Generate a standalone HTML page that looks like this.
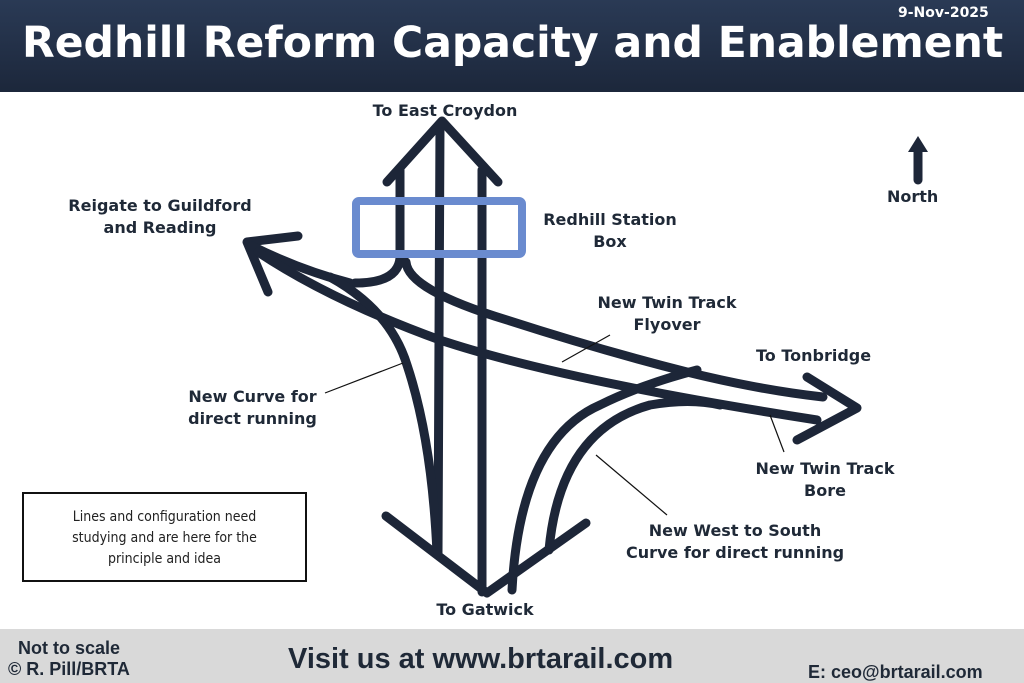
<!DOCTYPE html>
<html><head><style>
body{margin:0;width:1024px;height:683px;overflow:hidden;background:#fff;font-family:"DejaVu Sans","Liberation Sans",sans-serif;position:relative}
.hdr{position:absolute;left:0;top:0;width:1024px;height:92px;background:linear-gradient(#2a3a55,#1c273b)}
.t{position:absolute;color:#1f2937;font-weight:bold;white-space:nowrap}
.c{text-align:center}
.ftr{position:absolute;left:0;top:629px;width:1024px;height:54px;background:#d9d9d9}
.f{font-family:"Liberation Sans",sans-serif}
</style></head><body>
<div class="hdr"></div>
<div class="t" style="left:22px;top:19px;font-size:42.5px;color:#fff;letter-spacing:0px">Redhill Reform Capacity and Enablement</div>
<div class="t" style="left:898px;top:5px;font-size:14px;color:#fff">9-Nov-2025</div>
<svg width="1024" height="683" style="position:absolute;left:0;top:0">
<g fill="none" stroke="#1d2638" stroke-width="9" stroke-linecap="round" stroke-linejoin="round">
<polyline points="387,182 442,121 498,182"/>
<line x1="440" y1="124" x2="438" y2="553"/>
<path d="M400,170 L400,258 Q398,283 355,283"/>
<path d="M482,170 L482,592"/>
<polyline points="386,516 487,593 586,523"/>
<polyline points="298,236 247,242 268,292"/>
<path d="M252,246 Q300,270 350,283"/>
<path d="M258,252 Q330,300 440,340 Q560,380 817,420"/>
<path d="M330,277 Q390,310 407,365 Q432,440 437,553"/>
<path d="M406,262 Q408,290 507,320 Q600,350 687,372 Q760,390 823,397"/>
<polyline points="807,377 857,408 797,440"/>
<path d="M512,590 Q520,440 600,405 Q640,385 697,370"/>
<path d="M549,550 Q560,430 650,405 Q690,398 720,405"/>
<line x1="918" y1="180" x2="918" y2="148"/>
</g>
<polygon points="918,136 908,152 928,152" fill="#1d2638"/>
<rect x="356" y="201" width="166" height="53" rx="3" fill="none" stroke="#6a8bcf" stroke-width="8"/>
<g stroke="#111" stroke-width="1.2">
<line x1="325" y1="393" x2="403" y2="363"/>
<line x1="562" y1="362" x2="610" y2="335"/>
<line x1="770" y1="415" x2="784" y2="452"/>
<line x1="596" y1="455" x2="667" y2="515"/>
</g>
</svg>
<div class="t c" style="left:335px;top:101px;font-size:16px;width:220px">To East Croydon</div>
<div class="t c" style="left:40px;top:195px;font-size:16px;width:240px;line-height:22px">Reigate to Guildford<br>and Reading</div>
<div class="t c" style="left:520px;top:209px;font-size:16px;width:180px;line-height:22px">Redhill Station<br>Box</div>
<div class="t c" style="left:562px;top:292px;font-size:16px;width:210px;line-height:22px">New Twin Track<br>Flyover</div>
<div class="t" style="left:756px;top:346px;font-size:16px">To Tonbridge</div>
<div class="t c" style="left:160px;top:386px;font-size:16px;width:185px;line-height:22px">New Curve for<br>direct running</div>
<div class="t c" style="left:720px;top:458px;font-size:16px;width:210px;line-height:22px">New Twin Track<br>Bore</div>
<div class="t c" style="left:585px;top:520px;font-size:16px;width:300px;line-height:22px">New West to South<br>Curve for direct running</div>
<div class="t c" style="left:410px;top:600px;font-size:16px;width:150px">To Gatwick</div>
<div class="t" style="left:887px;top:187px;font-size:16px">North</div>
<div style="position:absolute;left:22px;top:492px;width:285px;height:90px;border:2px solid #111;font-size:14px;text-align:center;line-height:21px;color:#222;box-sizing:border-box;padding-top:13px;font-family:'DejaVu Sans Condensed','DejaVu Sans',sans-serif">Lines and configuration need<br>studying and are here for the<br>principle and idea</div>
<div class="ftr"></div>
<div class="t f" style="left:18px;top:638px;font-size:18px">Not to scale</div>
<div class="t f" style="left:8px;top:659px;font-size:18px">© R. Pill/BRTA</div>
<div class="t f" style="left:288px;top:643px;font-size:29px">Visit us at www.brtarail.com</div>
<div class="t f" style="left:808px;top:662px;font-size:18px">E: ceo@brtarail.com</div>
</body></html>
